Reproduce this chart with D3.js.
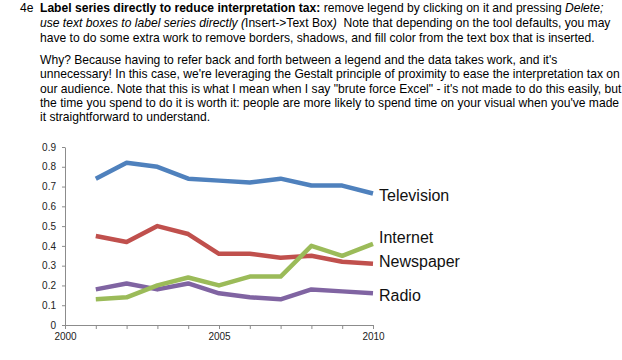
<!DOCTYPE html>
<html>
<head>
<meta charset="utf-8">
<script src="https://cdn.jsdelivr.net/npm/d3@7"></script>
<style>
  html, body { margin: 0; padding: 0; background: #fff; }
  svg { display: block; }
  text { font-family: "Liberation Sans", Arial, sans-serif; }
</style>
</head>
<body>
<svg id="chart" width="622" height="360"></svg>
<script>
// ---- Data ----
const years = [2001, 2002, 2003, 2004, 2005, 2006, 2007, 2008, 2009, 2010];
const seriesNames = ["Television", "Internet", "Newspaper", "Radio"];
const television = [0.74, 0.82, 0.80, 0.74, 0.73, 0.72, 0.74, 0.705, 0.705, 0.665];
const internet   = [0.13, 0.14, 0.20, 0.24, 0.20, 0.245, 0.245, 0.40, 0.35, 0.41];
const newspaper  = [0.45, 0.42, 0.50, 0.46, 0.36, 0.36, 0.34, 0.35, 0.32, 0.31];
const radio      = [0.18, 0.21, 0.18, 0.21, 0.16, 0.14, 0.13, 0.18, 0.17, 0.16];
const yTickValues = [0, 0.1, 0.2, 0.3, 0.4, 0.5, 0.6, 0.7, 0.8, 0.9];
const xTickValues = [2000, 2001, 2002, 2003, 2004, 2005, 2006, 2007, 2008, 2009, 2010];
const xTickLabels = [2000, 2005, 2010];

// Text content
const para1 = [
  [{t: "Label series directly to reduce interpretation tax:", w: "bold"}, {t: " remove legend by clicking on it and pressing "}, {t: "Delete;", s: "italic"}],
  [{t: "use text boxes to label series directly (", s: "italic"}, {t: "Insert->Text Box"}, {t: ")", s: "italic"}, {t: "  Note that depending on the tool defaults, you may"}],
  [{t: "have to do some extra work to remove borders, shadows, and fill color from the text box that is inserted."}]
];
const para2 = [
  "Why? Because having to refer back and forth between a legend and the data takes work, and it's",
  "unnecessary! In this case, we're leveraging the Gestalt principle of proximity to ease the interpretation tax on",
  "our audience. Note that this is what I mean when I say \"brute force Excel\" - it's not made to do this easily, but",
  "the time you spend to do it is worth it: people are more likely to spend time on your visual when you've made",
  "it straightforward to understand."
];

const svg = d3.select("#chart");

// ---- Text block ----
const txt = svg.append("g").attr("fill", "#000").style("font-size", "12.1px");
txt.append("text").attr("x", 20).attr("y", 11.5).text("4e");
para1.forEach((line, i) => {
  const t = txt.append("text").attr("x", 40).attr("y", 11.5 + i * 15)
    .attr("xml:space", "preserve").style("white-space", "pre");
  line.forEach(seg => {
    t.append("tspan")
      .attr("font-weight", seg.w || "normal")
      .attr("font-style", seg.s || "normal")
      .text(seg.t);
  });
});
para2.forEach((line, i) => {
  txt.append("text").attr("x", 40).attr("y", 63.7 + i * 14.4).text(line);
});

// ---- Chart ----
const x = d3.scaleLinear().domain([2000, 2010]).range([65, 373]);
const y = d3.scaleLinear().domain([0, 0.9]).range([325, 147]);

const axisColor = "#8c8c8c";

const yAxis = svg.append("g")
  .attr("transform", `translate(${x(2000)},0)`)
  .call(d3.axisLeft(y).tickValues(yTickValues).tickSize(3).tickSizeOuter(0).tickPadding(6)
    .tickFormat(d => d === 0 ? "0" : d3.format(".1f")(d)));
yAxis.selectAll("path, line").attr("stroke", axisColor);
yAxis.selectAll("text").attr("fill", "#222").style("font-size", "10px").style("font-family", "'Liberation Sans', Arial, sans-serif");

const xAxis = svg.append("g")
  .attr("transform", `translate(0,${y(0)})`)
  .call(d3.axisBottom(x).tickValues(xTickValues).tickSize(4).tickSizeOuter(0).tickPadding(4)
    .tickFormat(d => xTickLabels.includes(d) ? String(d) : ""));
xAxis.selectAll("path, line").attr("stroke", axisColor);
xAxis.selectAll("text").attr("fill", "#222").style("font-size", "10px").style("font-family", "'Liberation Sans', Arial, sans-serif");

const series = [
  {name: "Radio", values: radio, color: "#8064A2", labelY: 300.5},
  {name: "Newspaper", values: newspaper, color: "#C0504D", labelY: 267.3},
  {name: "Internet", values: internet, color: "#9BBB59", labelY: 242.7},
  {name: "Television", values: television, color: "#4F81BD", labelY: 200.7}
];

const line = d3.line().x((d, i) => x(years[i])).y(d => y(d));

svg.append("g").selectAll("path.series")
  .data(series)
  .join("path")
  .attr("class", "series")
  .attr("d", d => line(d.values))
  .attr("fill", "none")
  .attr("stroke", d => d.color)
  .attr("stroke-width", 4.5)
  .attr("stroke-linejoin", "round");

svg.append("g").selectAll("text.lbl")
  .data(series)
  .join("text")
  .attr("class", "lbl")
  .attr("x", 379)
  .attr("y", d => d.labelY)
  .attr("fill", "#111")
  .style("font-size", "16px")
  .text(d => d.name);
</script>
</body>
</html>
